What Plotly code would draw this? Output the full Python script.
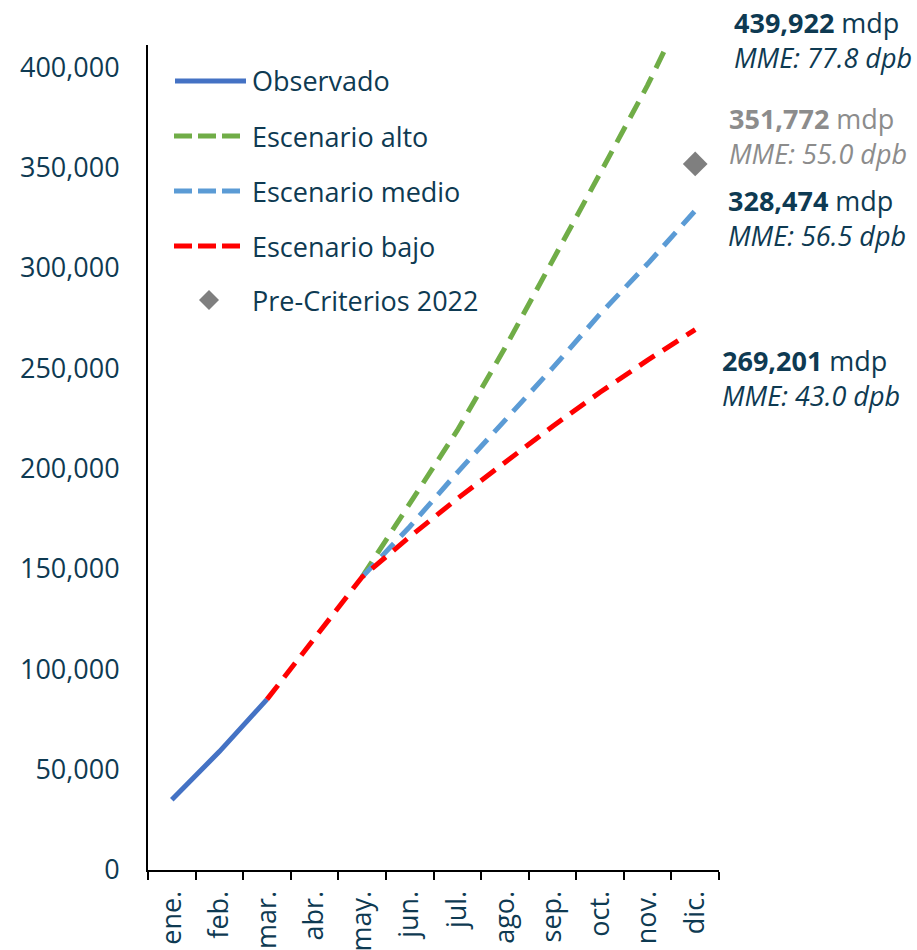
import plotly.graph_objects as go

# Monthly categories and cumulative series (millones de pesos)
months = ["ene.", "feb.", "mar.", "abr.", "may.", "jun.", "jul.", "ago.", "sep.", "oct.", "nov.", "dic."]
observado = [35000, 59000, 85000, None, None, None, None, None, None, None, None, None]
esc_alto = [None, None, None, None, 146000, 182000, 219000, 260000, 303000, 347000, 391000, 439922]
esc_medio = [None, None, None, None, 146000, 171000, 198000, 224000, 250000, 277000, 302000, 328474]
esc_bajo = [None, None, 85000, 116000, 146000, 166000, 185000, 203000, 221000, 238000, 254000, 269201]
pre_criterios = [None] * 11 + [351772]

y_ticks = [0, 50000, 100000, 150000, 200000, 250000, 300000, 350000, 400000]

# Year-end callouts: (value, MME text, colour, x, y in paper coords)
callouts = [
    ("439,922", "MME: 77.8 dpb", "#0E3A52", 1.0228, 1.006),
    ("351,772", "MME: 55.0 dpb", "#8C8C8C", 1.0140, 0.8897),
    ("328,474", "MME: 56.5 dpb", "#0E3A52", 1.0120, 0.790),
    ("269,201", "MME: 43.0 dpb", "#0E3A52", 1.0018, 0.596),
]

C_OBS = "#4472C4"
C_ALTO = "#70AD47"
C_MEDIO = "#5B9BD5"
C_BAJO = "#FF0000"
C_PRE = "#7F7F7F"
TXT = "#0E3A52"
FONT = "Open Sans"
FS = 27

fig = go.Figure()
fig.add_trace(go.Scatter(x=months, y=observado, mode="lines", name="Observado",
                         line=dict(color=C_OBS, width=5), showlegend=False))
fig.add_trace(go.Scatter(x=months, y=esc_alto, mode="lines", name="Escenario alto",
                         line=dict(color=C_ALTO, width=5, dash="18px,10px"), showlegend=False))
fig.add_trace(go.Scatter(x=months, y=esc_medio, mode="lines", name="Escenario medio",
                         line=dict(color=C_MEDIO, width=5, dash="18px,10px"), showlegend=False))
fig.add_trace(go.Scatter(x=months, y=esc_bajo, mode="lines", name="Escenario bajo",
                         line=dict(color=C_BAJO, width=5, dash="18px,10px"), showlegend=False))
fig.add_trace(go.Scatter(x=months, y=pre_criterios, mode="markers", name="Pre-Criterios 2022",
                         marker=dict(symbol="diamond", size=19, color=C_PRE), showlegend=False,
                         cliponaxis=False))

# Legend drawn inside the plot area
legend_rows = [
    ("Observado", C_OBS, "solid"),
    ("Escenario alto", C_ALTO, "dash"),
    ("Escenario medio", C_MEDIO, "dash"),
    ("Escenario bajo", C_BAJO, "dash"),
    ("Pre-Criterios 2022", C_PRE, "marker"),
]
row_y = [81, 136, 191, 246, 300]
x0p, x1p = 148, 719
y0p, y1p = 870, 45


def px_x(v):
    return (v - x0p) / (x1p - x0p)


def px_y(v):
    return (y0p - v) / (y0p - y1p)


for (label, col, kind), ry in zip(legend_rows, row_y):
    yy = px_y(ry)
    if kind == "solid":
        fig.add_shape(type="line", xref="paper", yref="paper", x0=px_x(175), x1=px_x(246),
                      y0=yy, y1=yy, line=dict(color=col, width=5))
    elif kind == "dash":
        fig.add_shape(type="line", xref="paper", yref="paper", x0=px_x(174), x1=px_x(240),
                      y0=yy, y1=yy, line=dict(color=col, width=5, dash="18px,6px"))
    else:
        fig.add_shape(type="path", xref="paper", yref="paper",
                      path=f"M {px_x(209)} {px_y(300 - 10)} L {px_x(219)} {px_y(300)} "
                           f"L {px_x(209)} {px_y(300 + 10)} L {px_x(199)} {px_y(300)} Z",
                      fillcolor=col, line=dict(width=0))
    fig.add_annotation(xref="paper", yref="paper", x=px_x(250), y=yy, text=label,
                       showarrow=False, xanchor="left", yanchor="middle",
                       font=dict(family=FONT, size=FS, color=TXT))

for val, mme, col, ax, ay in callouts:
    fig.add_annotation(xref="paper", yref="paper", x=ax, y=ay,
                       text=f"<b>{val}</b> mdp<br><i>{mme}</i>",
                       showarrow=False, xanchor="left", yanchor="middle", align="left",
                       font=dict(family=FONT, size=FS, color=col))

fig.update_layout(
    width=917, height=950,
    margin=dict(l=148, r=198, t=45, b=80, autoexpand=False),
    paper_bgcolor="white", plot_bgcolor="white",
    font=dict(family=FONT, size=FS, color=TXT),
    showlegend=False,
)
fig.update_xaxes(
    type="category", categoryorder="array", categoryarray=months,
    range=[-0.5, 11.5], tickangle=-90, tickson="boundaries",
    ticks="outside", ticklen=8, tickwidth=2, tickcolor="black",
    showline=True, linecolor="black", linewidth=2, showgrid=False,
    ticklabelstandoff=8, automargin=False,
    tickfont=dict(family=FONT, size=FS, color=TXT),
)
fig.update_yaxes(
    range=[0, 411000], tickvals=y_ticks, tickformat=",d",
    ticks="", showline=True, linecolor="black", linewidth=2, showgrid=False,
    zeroline=False, ticklabelstandoff=21, automargin=False,
    tickfont=dict(family=FONT, size=FS, color=TXT),
)

fig.write_html("out.html")
